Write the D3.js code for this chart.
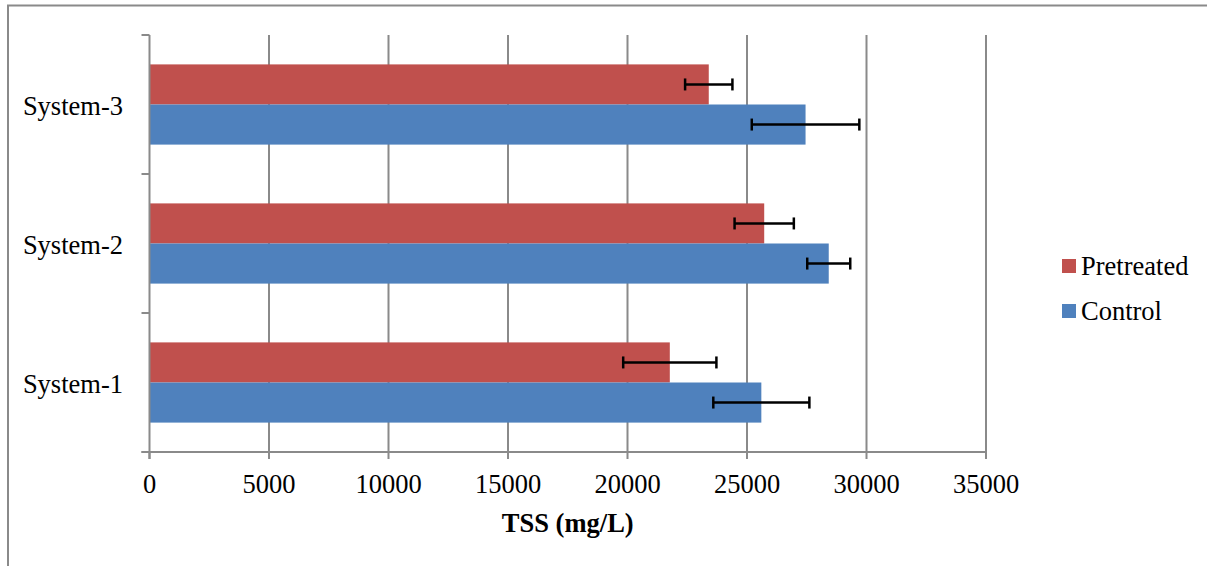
<!DOCTYPE html>
<html><head><meta charset="utf-8">
<script src="https://cdn.jsdelivr.net/npm/d3@7"></script>
<style>body{margin:0;background:#fff}svg{display:block}</style>
</head><body>
<script>
const categories = ["System-1", "System-2", "System-3"];
const seriesNames = ["Pretreated", "Control"];
const pretreated = [21770, 25720, 23400];
const pretreatedErr = [1950, 1240, 990];
const control = [25600, 28420, 27450];
const controlErr = [2010, 900, 2250];
const xTicks = [0, 5000, 10000, 15000, 20000, 25000, 30000, 35000];
const colors = {"Pretreated": "#C0504D", "Control": "#4F81BD"};

const FONT = "'Times New Roman', Tinos, 'Liberation Serif', 'DejaVu Serif', serif";
const FS = 26.5;
const W = 1207, H = 566;
const svg = d3.select("body").append("svg").attr("width", W).attr("height", H)
  .attr("font-family", FONT).style("font-family", FONT);
const L = 149.5, R = 986, T = 35, B = 452;

svg.append("rect").attr("x", 8).attr("y", 5.5).attr("width", W + 10).attr("height", H + 10)
  .attr("fill", "none").attr("stroke", "#8a8a8a").attr("stroke-width", 2);

const x = d3.scaleLinear().domain([0, 35000]).range([L, R]);
const y = d3.scaleBand().domain(categories.slice().reverse()).range([T, B]).paddingInner(0).paddingOuter(0);
const bandInner = y.bandwidth() * 0.577;
const sub = d3.scaleBand().domain(seriesNames).range([0, bandInner]);
const offset = (y.bandwidth() - bandInner) / 2;

// gridlines
svg.append("g").selectAll("line").data(xTicks.slice(1)).join("line")
  .attr("x1", d => x(d)).attr("x2", d => x(d)).attr("y1", T).attr("y2", B + 7)
  .attr("stroke", "#8a8a8a").attr("stroke-width", 2);

const data = [];
categories.forEach((c, i) => {
  data.push({cat: c, s: "Pretreated", v: pretreated[i], e: pretreatedErr[i]});
  data.push({cat: c, s: "Control", v: control[i], e: controlErr[i]});
});

svg.append("g").selectAll("rect").data(data).join("rect")
  .attr("x", x(0)).attr("y", d => y(d.cat) + offset + sub(d.s))
  .attr("width", d => x(d.v) - x(0)).attr("height", sub.bandwidth())
  .attr("fill", d => colors[d.s]);

// y axis
const yAxis = svg.append("g");
yAxis.append("line").attr("x1", L).attr("x2", L).attr("y1", T).attr("y2", B + 7)
  .attr("stroke", "#8a8a8a").attr("stroke-width", 2);
const yTickPos = y.domain().map(c => y(c)).concat([B]);
yAxis.selectAll("line.t").data(yTickPos).join("line").attr("class", "t")
  .attr("x1", L - 8).attr("x2", L).attr("y1", d => d).attr("y2", d => d)
  .attr("stroke", "#8a8a8a").attr("stroke-width", 2);
yAxis.selectAll("text").data(categories).join("text")
  .attr("x", 123).attr("y", d => y(d) + y.bandwidth() / 2 + 10.5)
  .attr("text-anchor", "end").attr("font-size", FS).attr("fill", "#000").text(d => d);

// x axis
const xAxis = svg.append("g");
xAxis.append("line").attr("x1", L - 8).attr("x2", R).attr("y1", B).attr("y2", B)
  .attr("stroke", "#8a8a8a").attr("stroke-width", 2);
xAxis.append("line").attr("x1", x(0)).attr("x2", x(0)).attr("y1", B).attr("y2", B + 7)
  .attr("stroke", "#8a8a8a").attr("stroke-width", 2);
xAxis.selectAll("text").data(xTicks).join("text")
  .attr("x", d => x(d)).attr("y", 493).attr("text-anchor", "middle").attr("font-size", FS)
  .attr("fill", "#000").text(d => d);
svg.append("text").attr("x", (L + R) / 2).attr("y", 532).attr("text-anchor", "middle")
  .attr("font-size", FS).attr("font-weight", "bold").attr("fill", "#000").text("TSS (mg/L)");

// error bars
const eb = svg.append("g").attr("stroke", "#000").attr("stroke-width", 2.5);
data.forEach(d => {
  const cy = y(d.cat) + offset + sub(d.s) + sub.bandwidth() / 2;
  eb.append("line").attr("x1", x(d.v - d.e)).attr("x2", x(d.v + d.e)).attr("y1", cy).attr("y2", cy);
  eb.append("line").attr("x1", x(d.v - d.e)).attr("x2", x(d.v - d.e)).attr("y1", cy - 6).attr("y2", cy + 6);
  eb.append("line").attr("x1", x(d.v + d.e)).attr("x2", x(d.v + d.e)).attr("y1", cy - 6).attr("y2", cy + 6);
});

// legend
const lg = svg.append("g");
seriesNames.forEach((s, i) => {
  const ly = 259 + i * 45;
  lg.append("rect").attr("x", 1062).attr("y", ly).attr("width", 14).attr("height", 14).attr("fill", colors[s]);
  lg.append("text").attr("x", 1081).attr("y", ly + 15.5).attr("font-size", FS).attr("fill", "#000").text(s);
});
</script>
</body></html>
